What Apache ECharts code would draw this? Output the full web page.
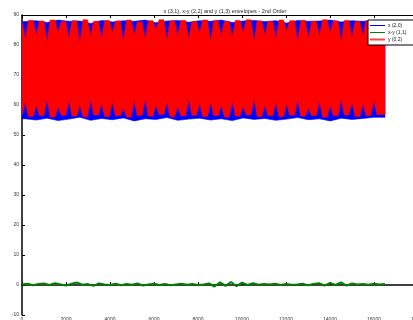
<!DOCTYPE html>
<html>
<head>
<meta charset="utf-8">
<script src="https://cdn.jsdelivr.net/npm/echarts@6/dist/echarts.min.js"></script>
<style>
  html, body { margin: 0; padding: 0; background: #fff; }
  #main { width: 413px; height: 320px; }
</style>
</head>
<body>
<div id="main"></div>
<script>
// envelope features (x in samples, y in value units)
const xEnd = 16500
const dipX = [150, 650, 1140, 1640, 2130, 2630, 3120, 3620, 4110, 4610, 5100, 5600, 6090, 6590, 7080, 7580, 8070,
  8570, 9060, 9560, 10050, 10550, 11040, 11540, 12030, 12530, 13020, 13520, 14010, 14510, 15000, 15500, 15990]
// red (y) envelope: notch depth at the top, spike height at the bottom, arch levels between
const redTopDip = [82, 83, 81, 84, 82, 80.5, 83, 82, 84, 81, 83, 82, 85, 81.5, 83, 82, 84, 81, 83, 82.5, 84, 81,
  83, 82, 84.5, 81, 82, 83, 84, 81, 82.5, 83, 84]
const redTopArch = [87.6, 88.2, 88.0, 88.3, 87.8, 88.1, 88.4, 87.9, 88.2, 88.0, 88.3, 87.7, 88.1, 88.4, 88.0, 88.2,
  87.8, 88.3, 88.1, 87.9, 88.2, 88.4, 88.0, 87.8, 88.3, 88.1, 88.2, 87.9, 88.4, 88.0, 88.2, 87.8, 88.1, 87.9]
const redBotPeak = [61, 60, 62, 59.5, 61.5, 60, 62, 60.5, 61, 59, 61.5, 62, 60, 61, 59.5, 62, 60.5, 61, 60, 61.5,
  59.5, 62, 60, 61, 60.5, 62, 59, 61.5, 60, 62, 61, 60.5, 61.5]
const redBotArch = [56.8, 56.2, 56.5, 56.0, 56.6, 56.3, 56.1, 56.7, 56.2, 56.4, 56.0, 56.5, 56.3, 56.8, 56.1, 56.4,
  56.6, 56.2, 56.5, 56.0, 56.3, 56.7, 56.2, 56.4, 56.1, 56.6, 56.3, 56.5, 56.0, 56.4, 56.7, 56.2, 56.5, 56.8]
// blue (x) envelope at the same positions
const blueTop = [87.8, 88.1, 87.5, 88.3, 87.9, 88.0, 87.2, 88.2, 87.7, 88.1, 87.9, 88.3, 87.4, 88.0, 88.2, 87.6,
  88.1, 87.9, 88.3, 87.5, 88.0, 88.2, 87.8, 88.1, 87.3, 88.2, 87.9, 88.0, 88.3, 87.7, 88.1, 87.9, 88.2]
const blueBot = [55.4, 55.0, 55.6, 54.8, 55.3, 55.9, 54.9, 55.5, 55.1, 55.7, 54.7, 55.4, 55.2, 55.8, 54.9, 55.3,
  55.6, 55.0, 55.4, 54.8, 55.7, 55.2, 55.5, 54.9, 55.3, 55.8, 55.1, 55.4, 54.7, 55.6, 55.2, 55.5, 55.9]
// green (x-y) trace, one value every 250 samples
const greenStep = 250
const green = [0.2, 0.4, -0.1, 0.3, 0.5, 0.0, 0.6, 0.2, -0.2, 0.4, 0.8, 0.1, 0.3, -0.3, 0.5, 0.2, 0.0, 0.4, -0.1,
  0.3, 0.1, 0.5, -0.2, 0.2, 0.4, 0.0, 0.3, -0.1, 0.2, 0.4, 0.1, 0.3, 0.0, 0.2, 0.5, -0.5, 0.9, -0.3, 1.0, -0.4, 0.8,
  0.0, 0.6, 0.1, 0.3, 0.2, 0.4, 0.0, 0.3, 0.1, 0.2, 0.4, -0.1, 0.3, 0.6, -0.2, 0.7, 0.0, 0.9, -0.2, 0.5, 0.2, 0.3,
  0.1, 0.4, 0.2, 0.3]
const names = ['x (2,0)', 'x-y (1,1)', 'y (0,2)']
const xTicks = { min: 0, max: 18000, interval: 2000 }
const yTicks = { min: -10, max: 90, interval: 10 }

// outline of a band: upper edge left->right, lower edge right->left
function bluePoly() {
  const up = [[0, blueTop[0]]], lo = [[0, blueBot[0]]]
  dipX.forEach((x, i) => { up.push([x, blueTop[i]]); lo.push([x, blueBot[i]]) })
  up.push([xEnd, blueTop[blueTop.length - 1]])
  lo.push([xEnd, blueBot[blueBot.length - 1]])
  return up.concat(lo.reverse())
}
function redPoly() {
  const w = 140
  const up = [[0, redTopArch[0]]], lo = [[0, redBotArch[0]]]
  dipX.forEach((x, i) => {
    up.push([x - w, redTopArch[i]], [x, redTopDip[i]], [x + w, redTopArch[i + 1]])
    lo.push([x - w, redBotArch[i]], [x, redBotPeak[i]], [x + w, redBotArch[i + 1]])
  })
  up.push([xEnd, redTopArch[redTopArch.length - 1]])
  lo.push([xEnd, redBotArch[redBotArch.length - 1]])
  return up.concat(lo.reverse())
}
function bandSeries(name, color, pts) {
  return {
    name, type: 'custom', itemStyle: { color },
    data: [[0, 0]],
    renderItem: (params, api) => ({
      type: 'polygon',
      shape: { points: pts.map(p => api.coord(p)) },
      style: { fill: color, stroke: color, lineWidth: 0.6 }
    })
  }
}

const font = 'Liberation Sans'
const chart = echarts.init(document.getElementById('main'), null, { renderer: 'canvas' })
chart.setOption({
  backgroundColor: '#fff',
  animation: false,
  title: {
    text: 'x (3,1), x-y (2,2) and y (1,3) envelopes - 2nd Order',
    left: 220, top: 3, textAlign: 'center',
    textStyle: { fontFamily: font, fontSize: 5.5, fontWeight: 'normal', color: '#222' }
  },
  legend: {
    orient: 'vertical', left: 368, top: 20,
    padding: [3, 40, 3, 2], itemGap: 2, itemWidth: 15, itemHeight: 5,
    backgroundColor: '#fff', borderColor: '#000', borderWidth: 1,
    textStyle: { fontFamily: font, fontSize: 5, color: '#222', padding: [0, 0, 0, -2] },
    data: [
      { name: names[0], icon: 'path://M0,2L15,2L15,3L0,3Z', itemStyle: { color: '#0000ff' } },
      { name: names[1], icon: 'path://M0,2L15,2L15,3L0,3Z', itemStyle: { color: '#008000' } },
      { name: names[2], icon: 'path://M0,1.5L15,1.5L15,3.5L0,3.5Z', itemStyle: { color: '#ff4040' } }
    ]
  },
  grid: { left: 22, right: -5, top: 15, bottom: 5, outerBoundsMode: 'none', containLabel: false },
  xAxis: [{
    type: 'value', ...xTicks,
    axisLine: { lineStyle: { color: '#000', width: 1.5 } },
    axisTick: { inside: true, length: 3, lineStyle: { color: '#000' } },
    axisLabel: { fontFamily: font, fontSize: 5, color: '#333', margin: 2, formatter: v => String(v) },
    splitLine: { show: false }
  }, {
    type: 'value', position: 'top', ...xTicks,
    axisLine: { lineStyle: { color: '#000', width: 1 } },
    axisTick: { inside: true, length: 3, lineStyle: { color: '#000' } },
    axisLabel: { show: false },
    splitLine: { show: false }
  }],
  yAxis: {
    type: 'value', ...yTicks,
    axisLine: { show: true, lineStyle: { color: '#000', width: 1.5 } },
    axisTick: { show: true, inside: true, length: 3, lineStyle: { color: '#000' } },
    axisLabel: { fontFamily: font, fontSize: 5, color: '#333', margin: 3 },
    splitLine: { show: false }
  },
  series: [
    bandSeries(names[0], '#0000ff', bluePoly()),
    {
      name: names[1], type: 'line', showSymbol: false, symbol: 'none',
      data: green.map((v, i) => [i * greenStep, v]),
      lineStyle: { color: '#008000', width: 2 }, itemStyle: { color: '#008000' }
    },
    bandSeries(names[2], '#ff0000', redPoly())
  ]
})
</script>
</body>
</html>
